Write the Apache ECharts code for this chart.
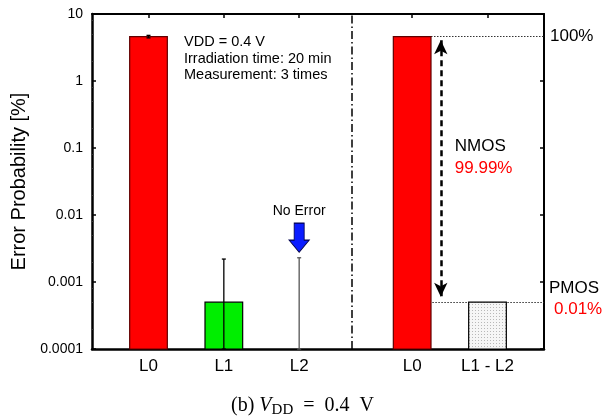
<!DOCTYPE html>
<html><head><meta charset="utf-8">
<script src="https://cdn.jsdelivr.net/npm/echarts@6/dist/echarts.min.js"></script>
<style>html,body{margin:0;padding:0;background:#fff}#c{width:605px;height:417px}</style>
</head><body><div id="c"></div>
<script>
// ---- data ----
const categories = ['L0', 'L1', 'L2', 'L0', 'L1 - L2'];
const categoryPos = [1, 2, 3, 4.5, 5.5];
const barValues = [4.6, 0.0005, null, 4.6, 0.0005];
const errUpper = [4.8, 0.0022, 0.0023, null, null];
const errLower = [4.4, 0.0001, 0.0001, null, null];
const yTickLabels = ['0.0001', '0.001', '0.01', '0.1', '1', '10'];
const minorMultipliers = [2, 5, 8];
const dividerPos = 3.7;
const noErrorPoint = [3, 0.0046];
const nmosPoint = [5.0, 0.073];
const totalLevel = 4.6;     // 100%
const pmosLevel = 0.0005;   // 0.01%
const arrowTop = 4.07, arrowBottom = 0.0006, arrowX = 4.88;
const xMin = 0.25, xMax = 6.25, yMin = 0.0001, yMax = 10;

// ---- styles ----
const pat = document.createElement('canvas');
pat.width = 3; pat.height = 3;
const pc = pat.getContext('2d');
pc.fillStyle = '#f6f6f6'; pc.fillRect(0, 0, 3, 3);
pc.fillStyle = '#b8b8b8'; pc.fillRect(1, 1, 1, 1);
const barFills = ['#ff0000', '#00ee00', null, '#ff0000', { image: pat, repeat: 'repeat' }];
const barStrokes = ['#600000', '#000', null, '#600000', '#000'];
const errColors = ['#000', '#000', '#555'];
const SANS = '"Liberation Sans", Arial, Helvetica, sans-serif';
const SERIF = '"Liberation Serif", "Times New Roman", serif';

const yTickVals = yTickLabels.map(Number);
const minorVals = [];
for (let d = 0; d < yTickVals.length - 1; d++) minorMultipliers.forEach(m => minorVals.push(+(yTickVals[d] * m).toPrecision(3)));

const barData = [];
barValues.forEach((v, i) => { if (v != null) barData.push([categoryPos[i], v, i]); });
const errData = [];
errUpper.forEach((u, i) => { if (u != null) errData.push([categoryPos[i], errLower[i], u, i]); });

const chart = echarts.init(document.getElementById('c'), null, { renderer: 'canvas' });
chart.setOption({
  animation: false,
  backgroundColor: '#fff',
  textStyle: { fontFamily: SANS },
  grid: { left: 92, right: 61, top: 14, bottom: 68 },
  title: {
    text: '(b) {i|V}{s|DD}  =  0.4  V',
    left: 'center', top: 388,
    textStyle: {
      fontFamily: SERIF, fontSize: 20, fontWeight: 'normal', color: '#000',
      rich: {
        i: { fontFamily: SERIF, fontStyle: 'italic', fontSize: 20, color: '#000' },
        s: { fontFamily: SERIF, fontSize: 15, color: '#000', padding: [10, 0, 0, 0] }
      }
    }
  },
  xAxis: [
    {
      type: 'value', min: xMin, max: xMax, position: 'bottom',
      splitLine: { show: false },
      axisLine: { show: true, lineStyle: { color: '#000', width: 2.5 } },
      axisTick: { show: false },
      axisLabel: {
        customValues: categoryPos, margin: 9, fontSize: 17, color: '#000', fontFamily: SANS,
        formatter: v => categories[categoryPos.indexOf(v)]
      }
    },
    {
      type: 'value', min: xMin, max: xMax, position: 'top',
      splitLine: { show: false },
      axisLine: { show: true, lineStyle: { color: '#000', width: 2 } },
      axisTick: { show: true, inside: true, length: 4, customValues: categoryPos, lineStyle: { color: '#000', width: 1.5 } },
      axisLabel: { show: false }
    }
  ],
  yAxis: [
    {
      type: 'log', logBase: 10, min: yMin, max: yMax, position: 'left',
      name: 'Error Probability [%]', nameLocation: 'middle', nameGap: 62,
      nameTextStyle: { fontSize: 20, color: '#000', fontFamily: SANS },
      splitLine: { show: false },
      axisLine: { show: true, lineStyle: { color: '#000', width: 2.5 } },
      axisTick: { show: true, inside: true, length: 4, customValues: yTickVals, lineStyle: { color: '#000', width: 1.5 } },
      axisLabel: {
        customValues: yTickVals, margin: 9, fontSize: 14, color: '#000', fontFamily: SANS,
        formatter: v => yTickLabels[Math.round(Math.log10(v)) + 4]
      }
    },
    {
      type: 'log', logBase: 10, min: yMin, max: yMax, position: 'right',
      splitLine: { show: false },
      axisLine: { show: true, lineStyle: { color: '#000', width: 2 } },
      axisTick: { show: true, inside: true, length: 4, customValues: yTickVals, lineStyle: { color: '#000', width: 1.5 } },
      axisLabel: { show: false }
    },
    {
      type: 'log', logBase: 10, min: yMin, max: yMax, position: 'left',
      splitLine: { show: false },
      axisLine: { show: false },
      axisTick: { show: true, inside: true, length: 2, customValues: minorVals, lineStyle: { color: '#333', width: 1 } },
      axisLabel: { show: false }
    }
  ],
  graphic: [{
    type: 'text', left: 184, top: 34, silent: true,
    style: {
      text: 'VDD = 0.4 V\nIrradiation time: 20 min\nMeasurement: 3 times',
      font: '14.5px ' + SANS, lineHeight: 16.5, fill: '#000'
    }
  }],
  series: [
    {
      type: 'custom', xAxisIndex: 0, yAxisIndex: 0, data: barData, z: 2,
      renderItem: (params, api) => {
        const x = api.value(0), v = api.value(1), i = api.value(2);
        const p1 = api.coord([x - 0.25, v]);
        const p2 = api.coord([x + 0.25, yMin]);
        return {
          type: 'rect',
          shape: { x: p1[0], y: p1[1], width: p2[0] - p1[0], height: p2[1] - p1[1] },
          style: { fill: barFills[i], stroke: barStrokes[i], lineWidth: 1.2 }
        };
      },
      markLine: {
        silent: true, symbol: 'none', animation: false, z: 1,
        data: [
          [{ coord: [4.75, totalLevel], label: { show: true, position: 'end', formatter: '100%', fontSize: 17, color: '#000', distance: 6 } },
           { coord: [xMax, totalLevel] }],
          [{ coord: [4.25, pmosLevel], label: { show: true, position: 'end', distance: 5, offset: [0, -3],
              formatter: '{a|PMOS}\n{b|0.01%}',
              rich: { a: { fontSize: 17, color: '#000', lineHeight: 21, fontFamily: SANS }, b: { fontSize: 17, color: '#ff0000', lineHeight: 21, padding: [0, 0, 0, 5], fontFamily: SANS } } } },
           { coord: [xMax, pmosLevel] }],
          { xAxis: dividerPos, label: { show: false },
            lineStyle: { type: [8, 3, 1.5, 3], color: '#000', width: 1.5 } }
        ],
        lineStyle: { type: [1.5, 1.5], color: '#333', width: 1 }
      }
    },
    {
      type: 'custom', xAxisIndex: 0, yAxisIndex: 0, data: errData, z: 3,
      renderItem: (params, api) => {
        const x = api.value(0), lo = api.value(1), hi = api.value(2), i = api.value(3);
        const pl = api.coord([x, lo]);
        const ph = api.coord([x, hi]);
        const c = errColors[i];
        return {
          type: 'group',
          children: [
            { type: 'line', shape: { x1: pl[0], y1: pl[1], x2: ph[0], y2: ph[1] }, style: { stroke: c, lineWidth: 1.3 } },
            { type: 'line', shape: { x1: ph[0] - 2, y1: ph[1], x2: ph[0] + 2, y2: ph[1] }, style: { stroke: c, lineWidth: 1.3 } },
            { type: 'line', shape: { x1: pl[0] - 2, y1: pl[1], x2: pl[0] + 2, y2: pl[1] }, style: { stroke: c, lineWidth: 1.3 } }
          ]
        };
      },
      markLine: {
        silent: true, animation: false, symbol: ['arrow', 'arrow'], symbolSize: [10, 14],
        data: [
          [{ coord: [arrowX, arrowTop], label: { show: false } },
           { coord: [arrowX, arrowBottom] }]
        ],
        lineStyle: { type: [6, 4], color: '#000', width: 2.5 }
      }
    },
    {
      type: 'scatter', xAxisIndex: 0, yAxisIndex: 0, z: 4,
      data: [noErrorPoint],
      symbol: 'path://M5,0 L15,0 L15,17 L20,17 L10,29 L0,17 L5,17 Z',
      symbolSize: [20, 29],
      itemStyle: { color: '#0a1cff', borderColor: '#000050', borderWidth: 1, opacity: 1 },
      label: { show: true, position: 'top', distance: 4, formatter: 'No Error', fontSize: 14, color: '#000', fontFamily: SANS }
    },
    {
      type: 'scatter', xAxisIndex: 0, yAxisIndex: 0, z: 4,
      data: [nmosPoint], symbolSize: 0,
      itemStyle: { opacity: 1 },
      label: {
        show: true, position: 'right', distance: 5, color: '#000', opacity: 1,
        formatter: '{a|NMOS}\n{b|99.99%}',
        rich: { a: { fontSize: 17, color: '#000', lineHeight: 22, fontFamily: SANS }, b: { fontSize: 17, color: '#ff0000', lineHeight: 22, fontFamily: SANS } }
      }
    }
  ]
});
</script></body></html>
